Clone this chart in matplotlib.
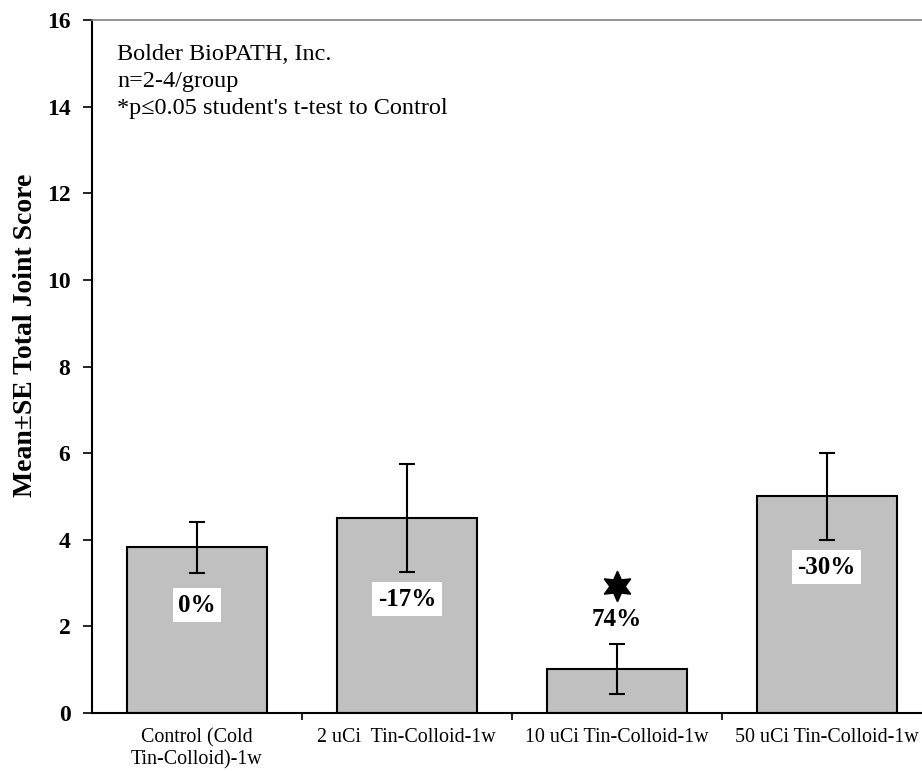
import matplotlib
matplotlib.use("Agg")
import matplotlib.pyplot as plt

plt.rcParams["font.family"] = ["Liberation Serif", "DejaVu Serif"]

CATEGORIES = ["Control (Cold\nTin-Colloid)-1w", "2 uCi  Tin-Colloid-1w",
              "10 uCi Tin-Colloid-1w", "50 uCi Tin-Colloid-1w"]
MEANS = [3.83, 4.50, 1.02, 5.00]
SE = [0.59, 1.25, 0.57, 1.0]
PCT_LABELS = ["0%", "-17%", "74%", "-30%"]
PCT_Y = [2.49, 2.63, 2.15, 3.37]
PCT_BOXED = [True, True, False, True]
SIG_IDX = 2
SIG_Y = 2.93
NOTE = "Bolder BioPATH, Inc.\nn=2-4/group\n*p\u22640.05 student's t-test to Control"

fig = plt.figure(figsize=(9.22, 7.71), dpi=100)
ax = fig.add_axes([0.0998, 0.0752, 0.9105, 0.8988])

x = range(len(CATEGORIES))
ax.bar(x, MEANS, width=0.667, color="#c0c0c0", edgecolor="black", linewidth=1.5, zorder=2)
ax.errorbar(x, MEANS, yerr=SE, fmt="none", ecolor="black", elinewidth=1.5,
            capsize=6, capthick=1.5, zorder=3)

for i, (lab, y, boxed) in enumerate(zip(PCT_LABELS, PCT_Y, PCT_BOXED)):
    bbox = dict(facecolor="white", edgecolor="none", pad=4) if boxed else None
    ax.text(i, y, lab, ha="center", va="center", fontsize=18, fontweight="bold",
            bbox=bbox, zorder=4)

ax.plot([SIG_IDX], [SIG_Y], marker=(6, 1, 0), markersize=22, color="black",
        linestyle="none", zorder=4)

ax.text(0.03, 0.965, NOTE, transform=ax.transAxes, ha="left", va="top",
        fontsize=17.5, linespacing=1.38)

ax.set_xlim(-0.5, 3.5)
ax.set_ylim(0, 16)
ax.set_yticks(range(0, 17, 2))
ax.set_yticklabels([str(v) for v in range(0, 17, 2)], fontsize=17, fontweight="bold")
ax.set_xticks(list(x))
ax.set_xticklabels(CATEGORIES, fontsize=14.4, linespacing=1.2)
ax.set_xticks([0.5, 1.5, 2.5], minor=True)
ax.tick_params(axis="x", which="major", length=0, pad=11)
ax.tick_params(axis="x", which="minor", length=5, width=1.2, direction="out")
ax.tick_params(axis="y", length=6.5, width=1.2, pad=9, direction="out")

ax.set_ylabel("Mean\u00b1SE Total Joint Score", fontsize=20, fontweight="bold")
ax.yaxis.set_label_coords(-0.064, 0.545)

ax.spines["left"].set_linewidth(1.5)
ax.spines["bottom"].set_linewidth(1.5)
ax.spines["top"].set_color("#808080")
ax.spines["top"].set_linewidth(1.2)
ax.spines["right"].set_visible(False)

fig.savefig("out.png", dpi=100)
